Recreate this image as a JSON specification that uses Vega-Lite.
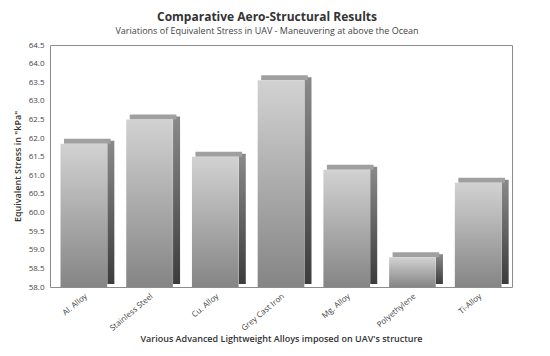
{
  "$schema": "https://vega.github.io/schema/vega-lite/v6.json",
  "width": 462,
  "height": 242,
  "padding": {"left": 13, "top": 11, "right": 26, "bottom": 4},
  "background": "white",
  "title": {
    "text": "Comparative Aero-Structural Results",
    "subtitle": "Variations of Equivalent Stress in UAV - Maneuvering at above the Ocean",
    "font": "Open Sans",
    "fontSize": 12,
    "fontWeight": "bold",
    "color": "#333333",
    "subtitleFont": "Open Sans",
    "subtitleFontSize": 9,
    "subtitleColor": "#444444",
    "subtitlePadding": 3,
    "offset": 4,
    "dx": -14,
    "anchor": "middle"
  },
  "data": {
    "values": [
      {"alloy": "Al. Alloy", "stress": 61.85},
      {"alloy": "Stainless Steel", "stress": 62.5},
      {"alloy": "Cu. Alloy", "stress": 61.5},
      {"alloy": "Grey Cast Iron", "stress": 63.55},
      {"alloy": "Mg. Alloy", "stress": 61.15},
      {"alloy": "Polyethylene", "stress": 58.8},
      {"alloy": "Ti-Alloy", "stress": 60.8}
    ]
  },
  "encoding": {
    "x": {
      "field": "alloy",
      "type": "nominal",
      "sort": null,
      "scale": {"paddingInner": 0.29, "paddingOuter": 0.16},
      "axis": {
        "title": "Various Advanced Lightweight Alloys imposed on UAV's structure",
        "titleFont": "Open Sans",
        "titleFontSize": 9,
        "titleFontWeight": 600,
        "titleColor": "#333333",
        "titlePadding": 2,
        "labelAngle": -40,
        "labelFont": "Open Sans",
        "labelFontSize": 8,
        "labelColor": "#444444",
        "labelPadding": 5,
        "domain": false,
        "ticks": false
      }
    },
    "y": {
      "field": "stress",
      "type": "quantitative",
      "scale": {"domain": [58, 64.5], "zero": false, "nice": false},
      "axis": {
        "title": "Equivalent Stress in \"kPa\"",
        "titleFont": "Open Sans",
        "titleFontSize": 9,
        "titleFontWeight": 600,
        "titleColor": "#333333",
        "titlePadding": 6,
        "values": [58, 58.5, 59, 59.5, 60, 60.5, 61, 61.5, 62, 62.5, 63, 63.5, 64, 64.5],
        "format": ".1f",
        "labelOverlap": false,
        "labelFlush": false,
        "labelFont": "Open Sans",
        "labelFontSize": 8,
        "labelColor": "#444444",
        "labelPadding": 6,
        "grid": false,
        "domain": false,
        "ticks": false
      }
    }
  },
  "layer": [
    {
      "mark": {"type": "bar", "width": 7, "xOffset": 27, "yOffset": -3, "y2Offset": -3, "color": {"gradient": "linear", "x1": 0, "y1": 0, "x2": 0, "y2": 1, "stops": [{"offset": 0, "color": "#8a8a8a"}, {"offset": 1, "color": "#3c3c3c"}]}},
      "encoding": {
        "y2": {"datum": 58}
      }
    },
    {
      "mark": {"type": "bar", "xOffset": 3.5, "y2Offset": -5, "color": "#a0a0a0"},
      "encoding": {
        "y2": {"field": "stress"}
      }
    },
    {
      "mark": {"type": "bar", "color": {"gradient": "linear", "x1": 0, "y1": 0, "x2": 0, "y2": 1, "stops": [{"offset": 0, "color": "#d2d2d2"}, {"offset": 1, "color": "#858585"}]}},
      "encoding": {
        "y2": {"datum": 58}
      }
    }
  ],
  "config": {
    "view": {"stroke": "#8c8c8c", "strokeWidth": 1}
  }
}
